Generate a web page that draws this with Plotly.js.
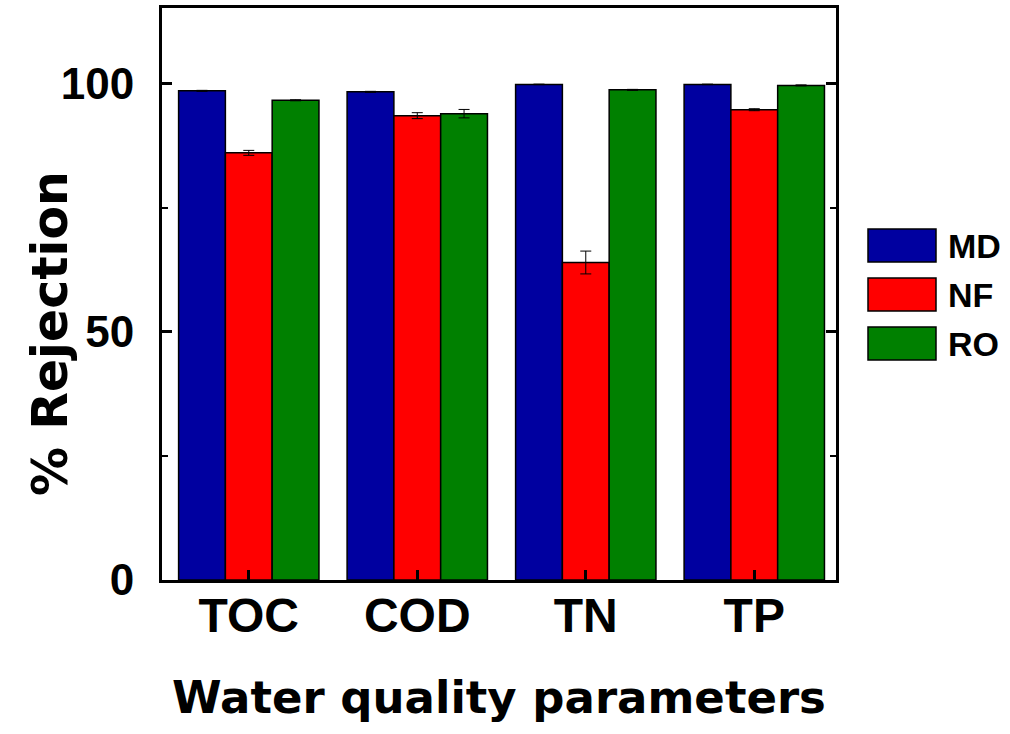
<!DOCTYPE html>
<html><head><meta charset="utf-8">
<script src="https://cdn.plot.ly/plotly-3.0.1.min.js"></script>
<style>html,body{margin:0;padding:0;background:#fff}</style>
</head><body><div id="chart" style="width:1010px;height:734px"></div>
<script>
const categories = ['TOC', 'COD', 'TN', 'TP'];
const seriesNames = ['MD', 'NF', 'RO'];
const mdValues = [98.6, 98.4, 99.9, 99.9];
const nfValues = [86.1, 93.6, 64.0, 94.8];
const roValues = [96.7, 94.0, 98.8, 99.7];
const mdErrors = [0.1, 0.1, 0.05, 0.05];
const nfErrors = [0.5, 0.6, 2.3, 0.2];
const roErrors = [0.1, 0.85, 0.1, 0.1];
const yTickValues = [0, 50, 100];
const yTickLabels = ['0', '50', '100'];
const xTitle = 'Water quality parameters';
const yTitle = '% Rejection';

const colors = ['#0000A0', '#FF0000', '#008000'];
const values = [mdValues, nfValues, roValues];
const errors = [mdErrors, nfErrors, roErrors];

const W = 1010, H = 734;
const M = {l: 162, r: 174, t: 8, b: 154};
const pw = W - M.l - M.r, ph = H - M.t - M.b;
const px = x => (x - M.l) / pw;
const py = y => (H - M.b - y) / ph;
const ARIAL = 'Arial';

const traces = seriesNames.map((name, i) => ({
  type: 'bar',
  name: name,
  x: categories,
  y: values[i],
  marker: {color: colors[i], line: {color: '#000', width: 1.5}},
  error_y: {type: 'data', array: errors[i], visible: true, color: '#000', thickness: 1, width: 5.5},
  showlegend: false
}));

const shapes = [];
const annotations = [];
seriesNames.forEach((name, i) => {
  const top = 229 + i * 49;
  shapes.push({type: 'rect', xref: 'paper', yref: 'paper',
    x0: px(868), x1: px(936), y0: py(top + 33), y1: py(top),
    fillcolor: colors[i], line: {color: '#000', width: 1.5}});
  annotations.push({xref: 'paper', yref: 'paper', x: px(946), y: py(top + 17),
    xanchor: 'left', yanchor: 'middle', showarrow: false, text: name,
    font: {family: ARIAL, size: 34, color: '#000', weight: 'bold'}});
});
annotations.push({xref: 'paper', yref: 'paper', x: px(50), y: py(334),
  xanchor: 'center', yanchor: 'middle', showarrow: false, text: yTitle, textangle: -90,
  font: {family: 'DejaVu Sans, sans-serif', size: 49, color: '#000', weight: 'bold'}});

const layout = {
  width: W, height: H,
  margin: M,
  paper_bgcolor: '#fff', plot_bgcolor: '#fff',
  barmode: 'group', bargap: 0.167, bargroupgap: 0,
  font: {family: ARIAL, color: '#000'},
  xaxis: {
    type: 'category', range: [-0.515, 3.485],
    showline: true, linecolor: '#000', linewidth: 3, mirror: true,
    ticks: 'inside', ticklen: 10, tickwidth: 3, tickcolor: '#000',
    ticklabelstandoff: -9,
    tickfont: {family: ARIAL, size: 48, color: '#000', weight: 'bold'},
    showgrid: false, zeroline: false,
    title: {text: xTitle, standoff: 41,
      font: {family: 'DejaVu Sans, sans-serif', size: 45, color: '#000', weight: 'bold'}}
  },
  yaxis: {
    range: [0, 115.3],
    tickvals: yTickValues, ticktext: yTickLabels,
    showline: true, linecolor: '#000', linewidth: 3, mirror: 'ticks',
    ticks: 'inside', ticklen: 10, tickwidth: 3, tickcolor: '#000',
    ticklabelstandoff: 16,
    minor: {tickvals: [25, 75], ticks: 'inside', ticklen: 6, tickwidth: 2, tickcolor: '#000', showgrid: false},
    tickfont: {family: ARIAL, size: 44, color: '#000', weight: 'bold'},
    showgrid: false, zeroline: false
  },
  shapes: shapes,
  annotations: annotations,
  showlegend: false
};

Plotly.newPlot('chart', traces, layout, {displayModeBar: false, staticPlot: true});
</script></body></html>
